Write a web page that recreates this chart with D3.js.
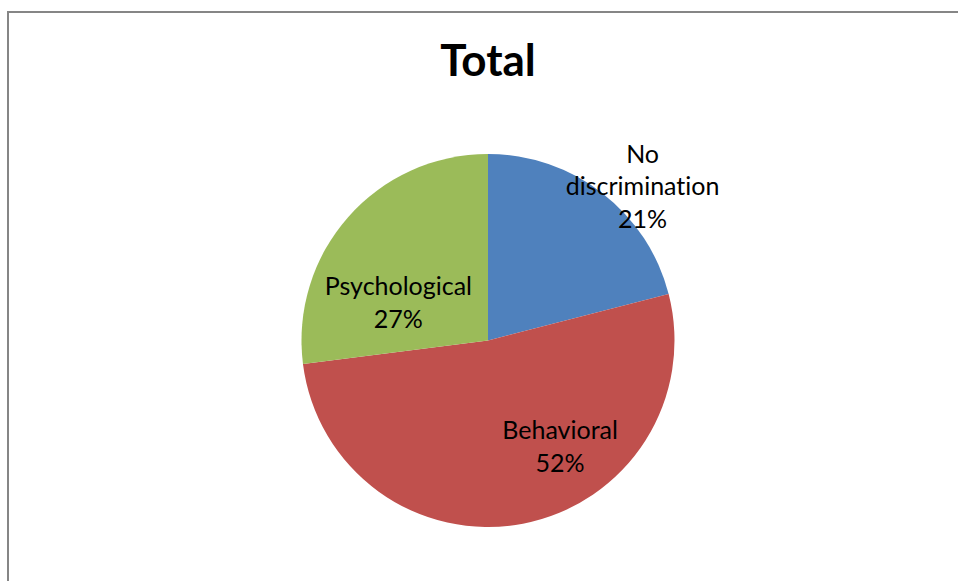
<!DOCTYPE html>
<html>
<head>
<meta charset="utf-8">
<script src="https://cdn.jsdelivr.net/npm/d3@7"></script>
<style>
  html, body { margin: 0; padding: 0; background: #fff; }
  svg { display: block; }
  text { font-family: Lato, "Open Sans", sans-serif; fill: #000; font-variant-ligatures: none; }
</style>
</head>
<body>
<svg id="chart" width="958" height="581"></svg>
<script>
// Share of each type of discrimination reported (percent)
const categories = ["No discrimination", "Behavioral", "Psychological"];
const values = [21, 52, 27];
const labelLines = [["No", "discrimination"], ["Behavioral"], ["Psychological"]];
const colors = ["#4F81BD", "#C0504D", "#9BBB59"];
const title = "Total";

const svg = d3.select("#chart");
const W = 958, H = 581;

// chart frame (runs off the right and bottom edges)
svg.append("rect")
  .attr("x", 8).attr("y", 12)
  .attr("width", W + 20).attr("height", H + 20)
  .attr("fill", "#fff")
  .attr("stroke", "#868686")
  .attr("stroke-width", 2);

svg.append("text")
  .attr("x", 488).attr("y", 76)
  .attr("text-anchor", "middle")
  .style("font-size", "44px")
  .style("font-weight", "bold")
  .text(title);

const cx = 488, cy = 340.5, radius = 186.5;

const pie = d3.pie().sort(null).value(d => d.value);
const arc = d3.arc().innerRadius(0).outerRadius(radius);

const data = categories.map((c, i) => ({ name: c, value: values[i], color: colors[i], lines: labelLines[i] }));
const arcs = pie(data);

const g = svg.append("g").attr("transform", `translate(${cx},${cy})`);

g.selectAll("path")
  .data(arcs)
  .join("path")
  .attr("d", arc)
  .attr("fill", d => d.data.color);

// label placement: angle (degrees clockwise from 12 o'clock) and distance from the centre
const labelPlacement = [
  { angle: 45.7, dist: 216 },
  { angle: 146.6, dist: 131 },
  { angle: 291, dist: 96 }
];
const lineH = 32.5;

arcs.forEach((a, i) => {
  const p = labelPlacement[i];
  const t = p.angle * Math.PI / 180;
  const x = Math.sin(t) * p.dist;
  const y = -Math.cos(t) * p.dist;
  const lines = a.data.lines.concat([Math.round(a.data.value) + "%"]);
  const n = lines.length;
  const txt = g.append("text")
    .attr("text-anchor", "middle")
    .style("font-size", "25px");
  lines.forEach((ln, k) => {
    txt.append("tspan")
      .attr("x", x)
      .attr("y", y + (k - (n - 1) / 2) * lineH + 5.5)
      .text(ln);
  });
});
</script>
</body>
</html>
